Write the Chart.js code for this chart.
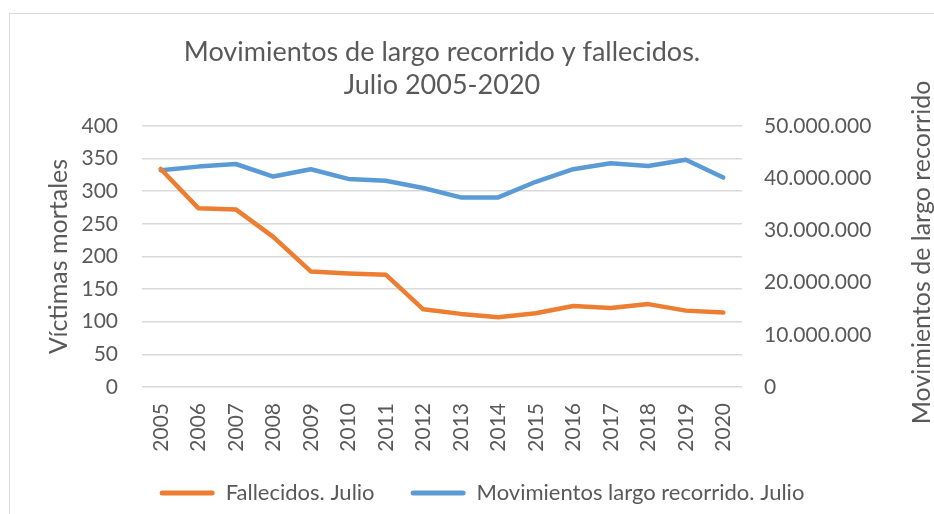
<!DOCTYPE html>
<html>
<head>
<meta charset="utf-8">
<script src="https://cdn.jsdelivr.net/npm/chart.js@4/dist/chart.umd.min.js"></script>
<style>
  html, body { margin: 0; padding: 0; background: #ffffff; overflow: hidden; }
  #frame { position: absolute; left: 9px; top: 13px; width: 1000px; height: 600px; border: 1px solid #d9d9d9; background: #ffffff; }
  #wrap { position: absolute; left: 0; top: 0; width: 934px; height: 514px; }
</style>
</head>
<body>
<div id="frame"></div>
<div id="wrap"><canvas id="c"></canvas></div>
<script>
const years = ['2005','2006','2007','2008','2009','2010','2011','2012','2013','2014','2015','2016','2017','2018','2019','2020'];
const fallecidos = [334, 274, 272, 230, 177, 174, 172, 119, 112, 107, 113, 124, 121, 127, 117, 114];
const movimientos = [41500000, 42200000, 42700000, 40300000, 41700000, 39850000, 39500000, 38100000, 36300000, 36300000, 39300000, 41700000, 42850000, 42300000, 43500000, 40100000];
const leftTicks = [0, 50, 100, 150, 200, 250, 300, 350, 400];
const rightTicks = [0, 10000000, 20000000, 30000000, 40000000, 50000000];
const rightTitle = 'Movimientos de largo recorrido';

const FONT = 'Lato';
const TXT = '#595959';
const ORANGE = '#ED7D31';
const BLUE = '#5B9BD5';

function fmtMiles(v) {
  return String(Math.round(v)).replace(/\B(?=(\d{3})+(?!\d))/g, '.');
}

// Right axis title reads bottom-to-top, as in the reference
const rightTitlePlugin = {
  id: 'rightTitle',
  afterDraw(chart) {
    const s = chart.scales.y1;
    const ctx = chart.ctx;
    ctx.save();
    ctx.fillStyle = TXT;
    ctx.font = '25px ' + FONT;
    ctx.textAlign = 'center';
    ctx.textBaseline = 'middle';
    ctx.translate(s.right - 12, (s.top + s.bottom) / 2 - 4);
    ctx.rotate(-Math.PI / 2);
    ctx.fillText(rightTitle, 0, 0);
    ctx.restore();
  }
};

new Chart(document.getElementById('c'), {
  type: 'line',
  data: {
    labels: years,
    datasets: [
      {
        label: 'Fallecidos. Julio',
        data: fallecidos,
        yAxisID: 'y',
        borderColor: ORANGE,
        backgroundColor: ORANGE,
        borderWidth: 4.5,
        pointRadius: 0,
        pointHoverRadius: 0,
        tension: 0,
        borderCapStyle: 'round',
        borderJoinStyle: 'round',
        fill: false,
        order: 1
      },
      {
        label: 'Movimientos largo recorrido. Julio',
        data: movimientos,
        yAxisID: 'y1',
        borderColor: BLUE,
        backgroundColor: BLUE,
        borderWidth: 4.5,
        pointRadius: 0,
        pointHoverRadius: 0,
        tension: 0,
        borderCapStyle: 'round',
        borderJoinStyle: 'round',
        fill: false,
        order: 2
      }
    ]
  },
  plugins: [rightTitlePlugin],
  options: {
    responsive: true,
    maintainAspectRatio: false,
    animation: false,
    events: [],
    layout: { padding: { left: 30, right: 0, top: 0, bottom: 0 } },
    plugins: {
      title: {
        display: true,
        text: ['Movimientos de largo recorrido y fallecidos.', 'Julio 2005-2020'],
        color: TXT,
        font: { family: FONT, size: 27, weight: 'normal', lineHeight: 1.22 },
        padding: { top: 36, bottom: 24 },
        fullSize: false
      },
      legend: {
        display: true,
        position: 'bottom',
        fullSize: true,
        labels: {
          color: TXT,
          font: { family: FONT, size: 22 },
          boxWidth: 55,
          boxHeight: 5,
          padding: 36,
          useBorderRadius: true,
          borderRadius: 2.5,
          generateLabels(chart) {
            const items = Chart.defaults.plugins.legend.labels.generateLabels(chart);
            items.forEach(it => { it.lineWidth = 0; });
            return items;
          }
        }
      },
      tooltip: { enabled: false }
    },
    scales: {
      x: {
        offset: true,
        grid: { display: false, drawTicks: false },
        border: { display: false },
        ticks: {
          color: TXT,
          font: { family: FONT, size: 21 },
          minRotation: 90,
          maxRotation: 90,
          padding: 16,
          autoSkip: false
        },
        afterFit(scale) {
          scale.height = 514 - 387 - (22 + 36 + 10);
          // let the rotated year labels overflow into the legend band
          scale._computeLabelArea = () => undefined;
        }
      },
      y: {
        position: 'left',
        min: 0,
        max: 400,
        afterBuildTicks(scale) { scale.ticks = leftTicks.map(v => ({ value: v })); },
        grid: { color: '#d9d9d9', lineWidth: 1.5, drawTicks: false },
        border: { display: false },
        ticks: {
          color: TXT,
          font: { family: FONT, size: 21 },
          padding: 24
        },
        title: {
          display: true,
          text: 'Víctimas mortales',
          color: TXT,
          font: { family: FONT, size: 25, lineHeight: 1 },
          padding: { top: 16, bottom: 0 }
        },
        afterFit(scale) { scale.width = 112; }
      },
      y1: {
        position: 'right',
        min: 0,
        max: 50000000,
        afterBuildTicks(scale) { scale.ticks = rightTicks.map(v => ({ value: v })); },
        grid: { display: false, drawTicks: false },
        border: { display: false },
        ticks: {
          color: TXT,
          font: { family: FONT, size: 21 },
          padding: 22,
          callback: (v) => fmtMiles(v)
        },
        title: { display: false },
        afterFit(scale) { scale.width = 192; }
      }
    }
  }
});
</script>
</body>
</html>
